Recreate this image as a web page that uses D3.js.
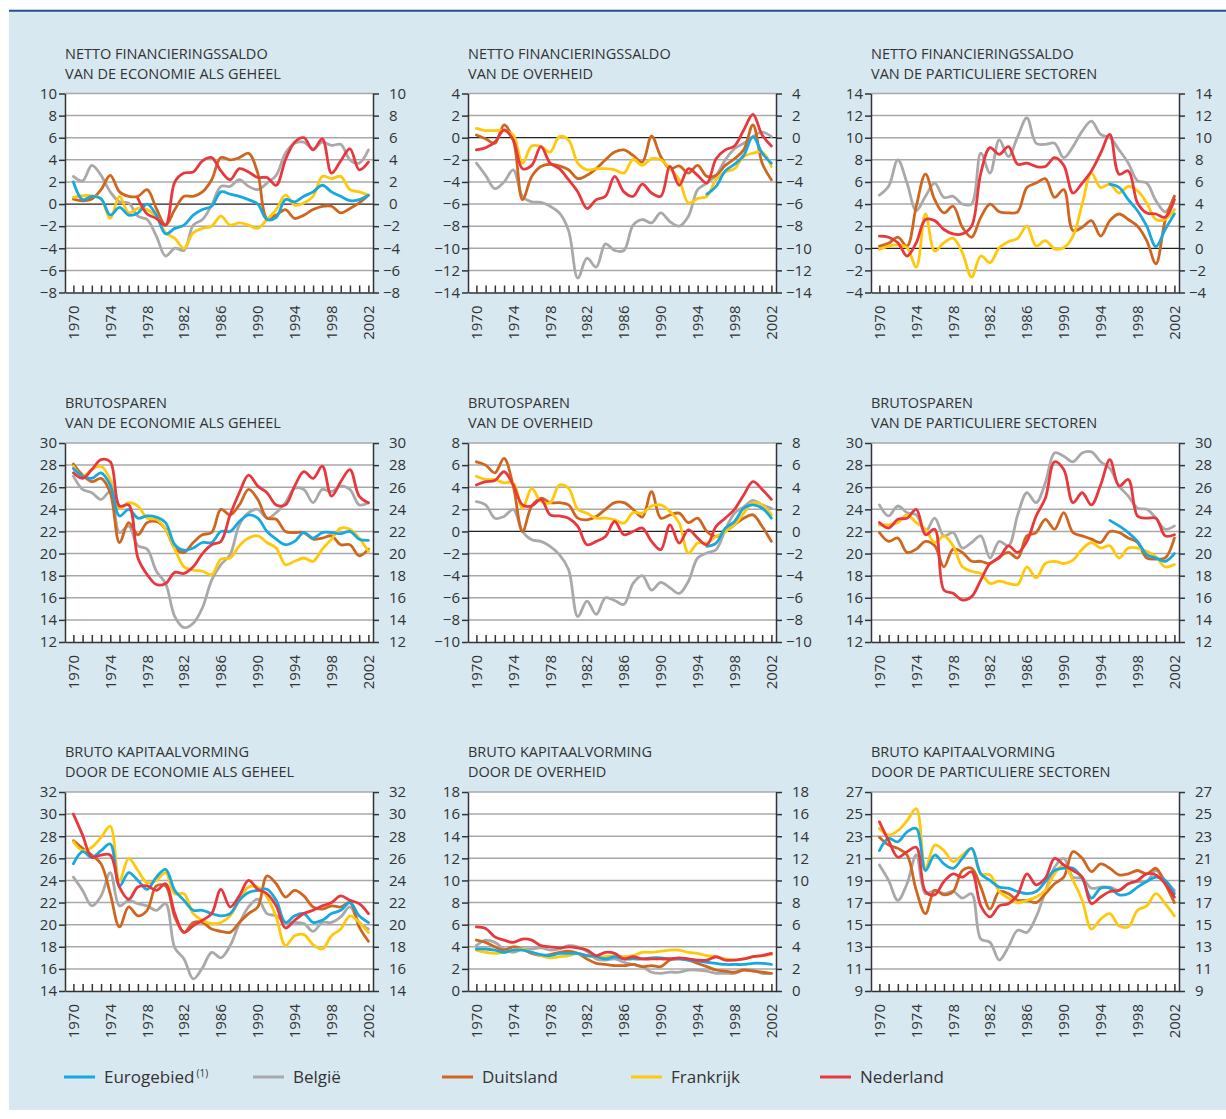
<!DOCTYPE html>
<html lang="nl">
<head>
<meta charset="UTF-8">
<title>Financieringssaldo, sparen en kapitaalvorming</title>
<script src="https://cdnjs.cloudflare.com/ajax/libs/d3/7.8.5/d3.min.js"></script>
<style>
    body { margin: 0; background: #fff; }
    text { font-family: "Open Sans", "DejaVu Sans", sans-serif; fill: #333; }
    .legend text { font-family: "Liberation Sans Narrow", "Open Sans", sans-serif; }
</style>
</head>
<body>
<div id="chart"></div>
<script>

    var width = 1226,
        height = 1119;

    // years on the x axis and the labelled ones
    var years = d3.range(1970, 2003);
    var yearLabels = [1970, 1974, 1978, 1982, 1986, 1990, 1994, 1998, 2002];

    var seriesNames = ["Eurogebied", "België", "Duitsland", "Frankrijk", "Nederland"];
    var seriesColors = ["#17a8e0", "#a9a9a9", "#cf661f", "#ffc80a", "#e8383e"];

    // 25 empty years before the euro area series start (1995)
    var n25 = d3.range(25).map(function(){ return null; });
    var n7 = d3.range(7).map(function(){ return null; });

    // netto financieringssaldo van de economie als geheel
    var nfEcoEuro = [2.0,0.4,0.7,0.5,-1.0,-0.3,-1.0,-0.8,0.0,-1.0,-2.7,-2.2,-1.9,-1.0,-0.5,-0.2,1.1,0.9,0.7,0.4,0.0,-1.4,-1.2,0.4,0.2,0.7,1.1,1.7,1.1,0.7,0.3,0.4,0.8];
    var nfEcoBel = [2.5,2.1,3.5,2.6,1.1,0.2,0.1,-1.1,-1.4,-2.9,-4.7,-4.0,-4.2,-1.9,-1.4,-0.1,1.6,1.6,2.2,1.6,1.3,1.9,2.6,4.6,5.5,5.6,5.0,5.6,5.3,5.4,4.0,3.7,4.9];
    var nfEcoDeu = [0.45,0.3,0.45,1.3,2.6,1.1,0.7,0.7,1.3,-0.4,-1.9,-0.5,0.7,0.7,1.1,2.2,4.2,4.0,4.2,4.6,2.8,-1.3,-1.0,-0.5,-1.3,-1.0,-0.5,-0.2,-0.2,-0.8,-0.4,0.1,0.8];
    var nfEcoFra = [0.6,0.75,0.75,0.45,-1.3,0.7,-0.8,-0.4,-0.5,-1.1,-2.6,-3.1,-4.0,-2.6,-2.2,-2.0,-1.1,-1.9,-1.7,-1.9,-2.2,-1.4,-0.5,0.8,-0.1,0.1,0.7,2.5,2.3,2.5,1.3,1.1,0.8];
    var nfEcoNed = n7.concat([0.5,-0.9,-1.3,-1.9,2.0,2.8,2.9,3.9,4.2,3.0,2.2,3.2,2.9,2.4,2.4,1.7,4.0,5.6,6.0,4.9,5.9,2.8,3.9,5.0,3.1,3.8]);

    // netto financieringssaldo van de overheid
    var nfOvhEuro = n25.concat([-5.1,-4.4,-3.0,-2.4,-1.6,0.1,-1.4,-2.3]);
    var nfOvhBel = [-2.3,-3.4,-4.6,-4.0,-2.9,-5.3,-5.8,-5.85,-6.2,-6.8,-8.4,-12.7,-10.9,-11.7,-9.6,-10.2,-10.2,-7.9,-7.4,-7.7,-6.8,-7.6,-8.0,-7.1,-4.7,-4.1,-3.4,-2.0,-1.0,-0.5,0.1,0.5,0.1];
    var nfOvhDeu = [0.25,-0.1,-0.5,1.15,-0.2,-5.6,-3.5,-2.6,-2.4,-2.55,-2.9,-3.7,-3.4,-2.8,-2.0,-1.3,-1.1,-1.6,-2.2,0.15,-1.7,-2.8,-2.55,-3.2,-2.5,-3.5,-3.4,-2.5,-1.9,-1.1,1.15,-2.3,-3.8];
    var nfOvhFra = [0.85,0.65,0.65,0.65,0.25,-2.3,-0.75,-0.8,-1.3,0.1,-0.2,-2.3,-2.9,-2.8,-2.8,-2.9,-3.2,-1.95,-2.5,-1.9,-2.0,-2.8,-3.8,-5.9,-5.5,-5.3,-3.8,-3.1,-2.8,-1.7,-1.4,-1.3,-2.6];
    var nfOvhNed = [-1.1,-0.9,-0.4,0.7,-0.2,-2.8,-2.5,-0.8,-2.3,-2.8,-3.8,-4.9,-6.4,-5.6,-5.3,-3.5,-4.9,-5.3,-4.2,-5.0,-5.3,-2.6,-4.3,-2.8,-3.4,-4.1,-1.9,-1.1,-0.75,0.7,2.1,0.25,-0.75];

    // netto financieringssaldo van de particuliere sectoren
    var nfPrvEuro = n25.concat([5.8,5.5,4.4,3.4,2.0,0.15,1.7,3.1]);
    var nfPrvBel = [4.8,5.6,8.0,5.9,3.4,4.7,5.9,4.6,4.7,4.0,4.0,8.6,6.8,9.8,8.3,10.1,11.8,9.5,9.4,9.5,8.2,9.2,10.6,11.5,10.3,10.0,8.9,7.7,6.1,5.9,4.3,3.3,4.7];
    var nfPrvDeu = [0.2,0.45,1.0,0.2,3.8,6.7,4.4,3.2,3.8,1.9,1.0,2.8,4.0,3.3,3.2,3.3,5.5,5.9,6.3,4.6,5.3,1.6,1.9,2.5,1.1,2.5,3.1,2.6,2.0,0.7,-1.4,2.5,4.7];
    var nfPrvFra = [-0.1,0.2,0.3,0.05,-1.7,3.1,-0.25,0.5,0.9,-0.4,-2.6,-0.7,-1.3,0.05,0.6,0.9,2.0,0.2,0.7,-0.05,0.05,1.1,4.0,6.8,5.5,5.8,5.0,5.6,5.2,4.1,2.6,2.6,3.5];
    var nfPrvNed = [1.1,1.0,0.5,-0.7,0.5,2.6,2.5,1.7,1.3,1.3,2.0,6.8,9.1,8.5,9.2,7.6,7.7,7.4,7.4,8.2,7.5,5.0,5.9,7.0,8.6,10.3,6.7,7.0,4.1,3.2,3.1,2.8,4.4];

    // brutosparen van de economie als geheel
    var bsEcoEuro = [27.7,27.0,26.8,27.3,26.2,23.4,24.0,23.2,23.4,23.3,22.8,20.8,20.3,20.5,21.0,21.0,22.0,22.0,22.9,23.5,23.2,22.0,21.3,20.8,21.1,21.9,21.4,21.9,21.9,21.8,22.0,21.3,21.2];
    var bsEcoBel = [27.0,25.8,25.5,24.9,25.6,21.9,22.5,20.7,20.4,18.4,17.3,14.3,13.3,13.7,15.1,17.6,19.0,19.9,22.6,23.7,24.0,23.2,23.7,24.6,25.9,25.8,24.6,25.8,25.6,26.1,25.8,24.4,24.6];
    var bsEcoDeu = [28.1,27.1,26.5,26.8,25.5,21.0,22.8,21.7,22.8,22.9,22.2,20.5,20.1,21.0,21.7,21.9,24.0,23.5,24.4,25.8,24.9,23.2,23.1,22.0,21.9,21.9,21.3,21.4,21.6,20.8,20.8,19.8,20.4];
    var bsEcoFra = [27.9,27.0,27.6,27.9,26.7,24.1,24.6,24.3,23.2,23.1,22.2,20.4,18.8,18.5,18.4,18.1,19.5,19.6,20.7,21.4,21.6,21.0,20.5,19.0,19.3,19.6,19.3,20.4,21.3,22.3,22.2,21.4,20.2];
    var bsEcoNed = [27.3,26.8,27.6,28.5,28.3,24.3,24.4,19.6,18.1,17.2,17.3,18.3,18.2,18.8,20.0,20.8,21.1,23.5,25.5,27.1,26.1,25.5,24.4,24.4,26.1,27.4,26.8,27.9,25.2,26.5,27.6,25.2,24.6];

    // brutosparen van de overheid
    var bsOvhEuro = n25.concat([-1.35,-1.05,0.3,0.9,2.1,2.4,2.1,1.2]);
    var bsOvhBel = [2.7,2.4,1.2,1.35,2.0,0.0,-0.75,-0.9,-1.35,-2.1,-3.45,-7.7,-6.3,-7.5,-6.0,-6.25,-6.6,-4.7,-4.0,-5.3,-4.6,-5.1,-5.6,-4.5,-2.4,-1.95,-1.65,0.15,1.65,2.2,2.8,2.4,2.1];
    var bsOvhDeu = [6.3,6.0,5.3,6.6,4.1,0.0,2.3,3.0,2.6,2.6,2.4,1.2,1.05,1.35,2.0,2.6,2.6,2.0,1.3,3.6,1.2,1.5,1.65,0.8,1.2,0.0,-0.45,0.0,0.6,1.2,1.5,0.45,-0.9];
    var bsOvhFra = [5.0,4.7,4.7,4.4,4.4,2.1,3.9,2.7,2.6,4.2,3.9,2.0,1.65,1.2,1.2,1.05,0.75,1.7,1.65,2.3,2.4,1.8,0.75,-1.95,-1.05,-1.05,-0.45,0.0,0.6,1.65,2.6,2.4,1.5];
    var bsOvhNed = [4.2,4.5,4.6,5.4,4.2,2.4,2.3,2.9,1.5,1.4,1.2,0.45,-1.2,-0.9,-0.45,0.9,-0.3,0.0,0.3,-0.9,-1.65,0.6,-1.05,0.15,-0.6,-1.2,0.45,1.2,2.0,3.3,4.5,3.8,2.9];

    // brutosparen van de particuliere sectoren
    var bsPrvEuro = n25.concat([23.0,22.5,21.9,21.1,19.9,19.6,19.3,20.0]);
    var bsPrvBel = [24.4,23.4,24.3,23.7,23.5,22.0,23.2,21.6,21.9,20.5,21.0,21.6,19.6,21.1,20.7,23.5,25.5,24.6,26.4,29.1,28.8,28.3,29.1,29.2,28.3,27.7,26.1,25.2,24.1,24.0,23.2,22.2,22.5];
    var bsPrvDeu = [21.9,21.1,21.4,20.1,20.4,21.1,20.7,18.8,20.4,20.1,19.3,19.3,19.1,19.7,20.1,19.6,21.6,21.9,23.1,22.2,23.7,21.9,21.6,21.3,21.0,22.0,21.9,21.4,21.0,19.6,19.5,19.6,21.4];
    var bsPrvFra = [22.6,22.6,22.8,23.5,22.8,22.2,21.0,21.6,20.7,18.8,18.4,18.2,17.3,17.5,17.3,17.2,18.8,17.8,19.1,19.3,19.1,19.4,20.4,21.0,20.5,20.7,19.6,20.5,20.5,20.2,19.7,18.8,19.0];
    var bsPrvNed = [22.8,22.3,23.1,23.2,24.0,21.7,22.2,16.7,16.4,15.8,16.1,17.6,19.1,19.6,20.7,20.1,21.1,23.4,25.0,28.3,27.6,24.6,25.5,24.4,26.2,28.5,26.1,26.7,23.4,23.2,23.2,21.6,21.7];

    // bruto kapitaalvorming door de economie als geheel
    var kvEcoEuro = [25.5,26.6,26.1,26.7,27.3,23.5,24.7,24.0,23.2,24.3,25.0,23.1,22.2,21.3,21.3,21.0,20.8,21.0,22.2,22.9,23.1,23.2,22.2,20.2,20.8,21.0,20.2,20.4,21.0,21.3,22.0,20.8,20.2];
    var kvEcoBel = [24.3,23.1,21.7,22.6,24.7,21.7,22.2,21.9,21.7,21.3,21.9,17.9,16.9,15.1,16.1,17.5,17.0,18.1,20.1,21.6,22.3,21.0,20.8,20.2,20.2,20.1,19.4,20.2,20.2,20.7,21.6,20.2,19.6];
    var kvEcoDeu = [27.6,26.9,26.3,25.5,22.8,19.8,21.6,20.8,21.3,23.5,23.5,20.7,19.3,20.2,20.2,19.6,19.4,19.3,20.2,21.0,21.6,24.4,23.7,22.5,23.1,22.6,21.6,21.4,21.7,21.6,22.0,19.8,18.5];
    var kvEcoFra = [27.5,26.7,27.0,27.9,28.9,24.0,26.0,24.9,23.8,24.0,24.7,22.8,22.8,21.0,20.4,20.1,20.2,20.8,22.2,23.4,23.4,22.5,20.7,18.1,19.0,19.1,18.2,17.8,19.0,19.6,20.8,20.2,19.3];
    var kvEcoNed = [30.0,28.1,26.1,26.3,26.3,23.4,22.3,23.4,23.5,23.1,23.7,21.0,19.3,19.9,20.4,21.0,23.2,21.6,22.6,24.0,23.2,22.8,21.7,19.7,20.4,21.0,21.3,21.7,22.0,22.6,22.2,21.9,21.0];

    // bruto kapitaalvorming door de overheid
    var kvOvhEuro = [3.8,3.8,3.7,3.5,3.7,3.7,3.5,3.3,3.2,3.4,3.4,3.4,3.2,3.1,2.9,3.1,2.9,2.9,2.9,3.0,3.0,2.9,2.9,2.8,2.7,2.6,2.5,2.4,2.4,2.4,2.5,2.5,2.4];
    var kvOvhBel = [4.1,4.6,4.4,3.8,3.5,3.8,3.8,3.9,3.7,3.8,4.1,4.0,3.6,2.9,2.8,2.9,2.6,2.4,2.2,1.7,1.6,1.7,1.7,1.9,1.9,1.8,1.6,1.6,1.6,1.9,1.9,1.6,1.6];
    var kvOvhDeu = [4.6,4.4,4.0,3.7,4.0,3.8,3.4,3.2,3.3,3.5,3.6,3.4,2.9,2.5,2.4,2.3,2.3,2.4,2.2,2.3,2.2,2.8,2.9,2.8,2.5,2.2,1.9,1.8,1.7,1.9,1.8,1.7,1.6];
    var kvOvhFra = [3.7,3.5,3.4,3.5,3.7,3.8,3.5,3.2,3.0,3.1,3.2,3.4,3.2,3.1,3.1,3.2,3.1,3.2,3.5,3.5,3.6,3.7,3.7,3.5,3.4,3.2,3.1,2.9,2.8,2.9,3.1,3.2,3.3];
    var kvOvhNed = [5.8,5.65,4.9,4.6,4.4,4.7,4.6,4.1,4.0,3.9,4.0,3.9,3.7,3.2,3.5,3.4,2.9,3.1,2.9,2.9,2.9,2.9,3.0,2.9,2.8,2.8,3.1,2.8,2.8,2.9,3.1,3.2,3.4];

    // bruto kapitaalvorming door de particuliere sectoren
    var kvPrvEuro = [21.7,22.8,22.5,23.4,23.7,19.9,21.3,20.5,20.1,21.0,21.9,19.6,19.0,18.4,18.3,18.0,17.8,18.0,18.9,19.9,20.1,20.1,19.2,17.4,18.3,18.3,17.7,17.8,18.4,18.9,19.3,19.0,17.8];
    var kvPrvBel = [20.4,19.0,17.2,18.7,21.3,17.8,18.1,17.8,18.0,17.4,17.8,13.7,13.4,11.8,13.0,14.5,14.3,15.7,18.0,20.2,21.0,19.3,19.2,18.3,18.4,18.4,18.1,18.7,18.9,18.9,19.9,19.0,18.1];
    var kvPrvDeu = [22.9,22.2,21.9,21.3,18.1,16.0,18.1,17.7,18.0,19.9,20.1,18.4,16.4,18.0,17.8,17.2,17.2,17.0,17.8,18.7,19.3,21.6,21.0,19.8,20.5,20.1,19.5,19.6,19.9,19.6,20.1,18.7,17.0];
    var kvPrvFra = [23.7,23.1,23.5,24.4,25.5,20.1,22.2,21.7,20.7,21.3,21.9,19.6,19.5,18.0,17.4,17.0,17.2,17.5,18.1,19.6,20.4,19.0,17.2,14.6,15.5,16.0,14.9,14.8,16.3,16.7,17.8,16.9,15.8];
    var kvPrvNed = [24.3,22.6,21.1,21.6,22.0,18.0,17.7,18.9,19.6,19.3,19.8,16.7,15.7,16.7,16.9,17.7,19.6,18.6,19.2,21.0,20.4,19.9,19.3,16.9,17.5,18.0,18.1,18.7,19.0,19.6,19.5,18.7,17.5];

    // panel titles and y axis ranges [min, max, step]
    var panelTitles = [
        ["NETTO FINANCIERINGSSALDO", "VAN DE ECONOMIE ALS GEHEEL"],
        ["NETTO FINANCIERINGSSALDO", "VAN DE OVERHEID"],
        ["NETTO FINANCIERINGSSALDO", "VAN DE PARTICULIERE SECTOREN"],
        ["BRUTOSPAREN", "VAN DE ECONOMIE ALS GEHEEL"],
        ["BRUTOSPAREN", "VAN DE OVERHEID"],
        ["BRUTOSPAREN", "VAN DE PARTICULIERE SECTOREN"],
        ["BRUTO KAPITAALVORMING", "DOOR DE ECONOMIE ALS GEHEEL"],
        ["BRUTO KAPITAALVORMING", "DOOR DE OVERHEID"],
        ["BRUTO KAPITAALVORMING", "DOOR DE PARTICULIERE SECTOREN"]
    ];
    var panelRanges = [[-8, 10, 2], [-14, 4, 2], [-4, 14, 2],
                       [12, 30, 2], [-10, 8, 2], [12, 30, 2],
                       [14, 32, 2], [0, 18, 2], [9, 27, 2]];

    // series per panel, same order as seriesNames
    var panelSeries = [
        [nfEcoEuro, nfEcoBel, nfEcoDeu, nfEcoFra, nfEcoNed],
        [nfOvhEuro, nfOvhBel, nfOvhDeu, nfOvhFra, nfOvhNed],
        [nfPrvEuro, nfPrvBel, nfPrvDeu, nfPrvFra, nfPrvNed],
        [bsEcoEuro, bsEcoBel, bsEcoDeu, bsEcoFra, bsEcoNed],
        [bsOvhEuro, bsOvhBel, bsOvhDeu, bsOvhFra, bsOvhNed],
        [bsPrvEuro, bsPrvBel, bsPrvDeu, bsPrvFra, bsPrvNed],
        [kvEcoEuro, kvEcoBel, kvEcoDeu, kvEcoFra, kvEcoNed],
        [kvOvhEuro, kvOvhBel, kvOvhDeu, kvOvhFra, kvOvhNed],
        [kvPrvEuro, kvPrvBel, kvPrvDeu, kvPrvFra, kvPrvNed]
    ];

    // drawing order: grey, orange, yellow, blue, red on top
    var drawOrder = [1, 2, 3, 0, 4];

    var svg = d3.select("#chart")
        .append("svg")
        .attr("width", width)
        .attr("height", height);

    // light blue box with dark blue rule on top
    svg.append("rect")
        .attr("x", 9).attr("y", 12)
        .attr("width", width - 9).attr("height", 1098)
        .attr("fill", "#d8e8f1");
    svg.append("line")
        .attr("x1", 9).attr("x2", width)
        .attr("y1", 10.8).attr("y2", 10.8)
        .attr("stroke", "#1b4f94")
        .attr("stroke-width", 2);

    var plotW = 308,
        plotH = 199;
    var colLeft = [65, 468, 871];
    var rowTop = [93.5, 443, 792];

    var fmt = d3.format("d");

    panelSeries.forEach(function(series, i) {
        var left = colLeft[i % 3],
            top = rowTop[Math.floor(i / 3)],
            range = panelRanges[i];

        var x = d3.scaleLinear().domain([1969.09, 2002.5]).range([left, left + plotW]);
        var y = d3.scaleLinear().domain([range[0], range[1]]).range([top + plotH, top]);
        var ticks = d3.range(range[0], range[1] + range[2] / 2, range[2]);

        var g = svg.append("g").attr("class", "panel");

        // title, two lines
        g.selectAll(".title")
            .data(panelTitles[i])
            .enter()
            .append("text")
            .attr("class", "title")
            .attr("x", left)
            .attr("y", function(d, k){ return top - 35 + k * 20; })
            .style("font-size", "14.5px")
            .text(function(d){ return d; });

        g.append("rect")
            .attr("x", left).attr("y", top)
            .attr("width", plotW).attr("height", plotH)
            .attr("fill", "#fff");

        // gridlines
        g.selectAll(".grid")
            .data(ticks.slice(1))
            .enter()
            .append("line")
            .attr("x1", left).attr("x2", left + plotW)
            .attr("y1", function(d){ return y(d); })
            .attr("y2", function(d){ return y(d); })
            .attr("stroke", function(d){ return d === 0 ? "#222" : "#a8a8a8"; })
            .attr("stroke-width", function(d){ return d === 0 ? 1.3 : 1.5; });

        // left and right axes
        var axL = g.append("g")
            .attr("transform", "translate(" + left + ",0)")
            .call(d3.axisLeft(y).tickValues(ticks).tickSize(6).tickSizeOuter(0).tickPadding(2).tickFormat(fmt));
        var axR = g.append("g")
            .attr("transform", "translate(" + (left + plotW) + ",0)")
            .call(d3.axisRight(y).tickValues(ticks).tickSize(6).tickSizeOuter(0).tickPadding(10).tickFormat(fmt));
        axR.selectAll("text").attr("x", function(d){ return d < 0 ? 10 : 16; });

        // bottom axis with small year ticks pointing up
        var axB = g.append("g")
            .attr("transform", "translate(0," + (top + plotH) + ")")
            .call(d3.axisBottom(x).tickValues(years).tickSize(-7).tickSizeOuter(0).tickFormat(""));

        [axL, axR, axB].forEach(function(ax){
            ax.selectAll("path, line").attr("stroke", "#333").attr("stroke-width", 1.5);
            ax.selectAll("text")
                .style("font-family", "\"Open Sans\", sans-serif")
                .style("font-size", "15px")
                .attr("fill", "#333");
        });

        // rotated year labels
        g.selectAll(".year")
            .data(yearLabels)
            .enter()
            .append("text")
            .attr("class", "year")
            .attr("transform", function(d){ return "translate(" + x(d) + "," + (top + plotH + 13) + ") rotate(-90)"; })
            .attr("text-anchor", "end")
            .attr("dy", "0.36em")
            .style("font-size", "15px")
            .text(function(d){ return d; });

        var line = d3.line()
            .defined(function(d){ return d != null; })
            .x(function(d, k){ return x(years[k]); })
            .y(function(d){ return y(d); })
            .curve(d3.curveCatmullRom.alpha(0.5));

        drawOrder.forEach(function(s) {
            g.append("path")
                .datum(series[s])
                .attr("d", line)
                .attr("fill", "none")
                .attr("stroke", seriesColors[s])
                .attr("stroke-width", 2.8)
                .attr("stroke-linejoin", "round")
                .attr("stroke-linecap", "round");
        });
    });

    // legend
    var legend = svg.append("g").attr("class", "legend");
    seriesNames.forEach(function(name, i) {
        var lx = 64 + i * 189,
            ly = 1077;
        legend.append("line")
            .attr("x1", lx).attr("x2", lx + 31)
            .attr("y1", ly).attr("y2", ly)
            .attr("stroke", seriesColors[i])
            .attr("stroke-width", 3);
        var t = legend.append("text")
            .attr("x", lx + 40)
            .attr("y", ly)
            .attr("dy", "0.36em")
            .style("font-size", "17px")
            .text(name);
        if (i === 0) {
            t.append("tspan")
                .attr("dx", "2")
                .attr("dy", "-0.6em")
                .style("font-size", "10px")
                .text("(1)");
        }
    });

</script>
</body>
</html>
